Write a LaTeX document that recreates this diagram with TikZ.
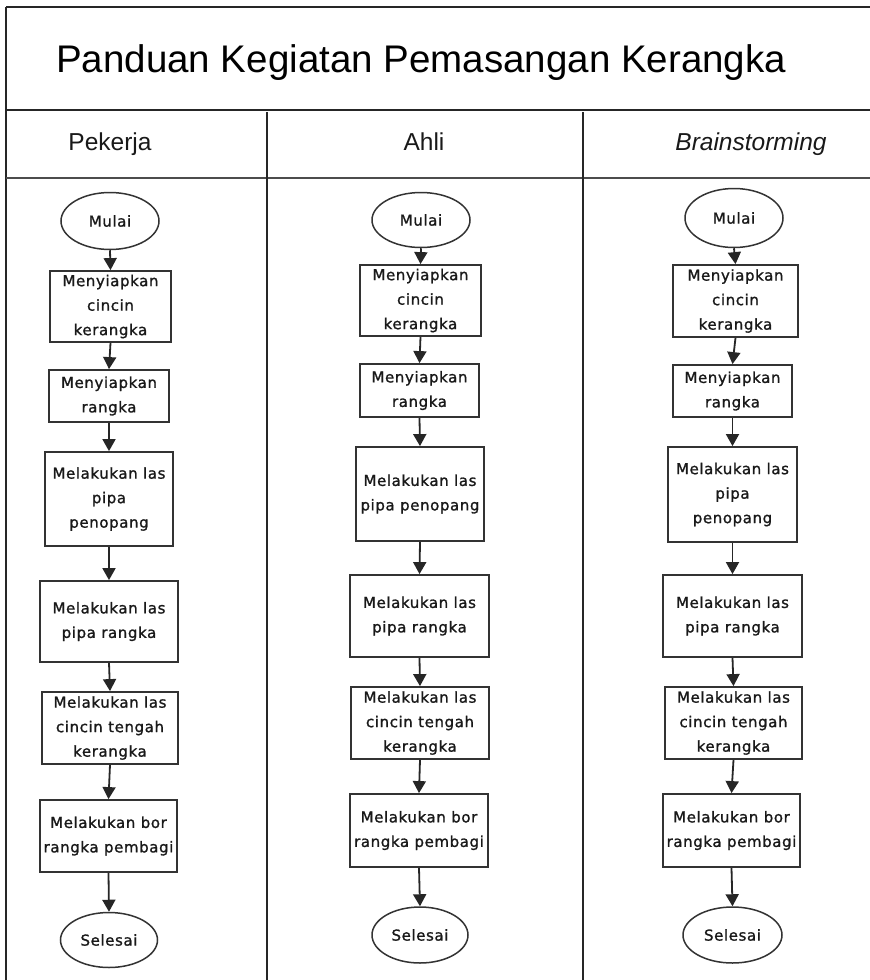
\documentclass[tikz,border=0pt]{standalone}
\usepackage{fontspec}
\setmainfont{Liberation Sans}
\newfontfamily\boxfont[LetterSpace=4,FakeBold=1.2]{DejaVu Sans}
\usetikzlibrary{shapes.geometric,arrows.meta}
\tikzset{
  x=1pt, y=-1pt,
  frameline/.style={line width=1.6pt, draw=black!85},
  boxtext/.style={font=\boxfont\fontsize{15}{24.5}\selectfont, text=black!90, align=center, inner sep=0pt},
  procbox/.style={boxtext, draw=black!80, line width=1.8pt, rectangle},
  termnode/.style={boxtext, draw=black!80, line width=1.5pt, ellipse},
  arr/.style={line width=1.8pt, draw=black!85, -{Triangle[width=13pt,length=12pt]}},
  headtext/.style={font=\fontsize{24.5}{28}\selectfont, text=black!90, anchor=base, inner sep=0pt},
}
\begin{document}
\begin{tikzpicture}
\useasboundingbox (0,0) rectangle (870,980);
\clip (0,0) rectangle (870,980);
\fill[white] (0,0) rectangle (870,980);
% frame
\draw[frameline] (6,7) -- (872,7);
\draw[frameline] (6,7) -- (6,982);
\draw[frameline] (6,110) -- (872,110);
\draw[line width=2.6pt, draw=black!70] (6,178) -- (872,178);
\draw[frameline] (267,112) -- (267,982);
\draw[frameline] (583,112) -- (583,982);
% title and headers
\node[font=\fontsize{38.5}{44}\selectfont, text=black, anchor=base west, inner sep=0pt] (title) at (56,72) {Panduan Kegiatan Pemasangan Kerangka};
\node[headtext] (h1) at (110,150) {Pekerja};
\node[headtext] (h2) at (424,150) {Ahli};
\node[headtext] (h3) at (751,150) {\itshape Brainstorming};
% column 1
\node[termnode, minimum width=98pt, minimum height=57pt] (m1) at (110,221) {Mulai};
\node[procbox, minimum width=121pt, minimum height=71pt] (a1) at (110.5,306.5) {Menyiapkan\\cincin\\kerangka};
\node[procbox, minimum width=120pt, minimum height=52pt] (b1) at (109,396) {Menyiapkan\\rangka};
\node[procbox, minimum width=128pt, minimum height=94pt] (c1) at (109,499) {Melakukan las\\pipa\\penopang};
\node[procbox, minimum width=138pt, minimum height=81pt] (d1) at (109,621.5) {Melakukan las\\pipa rangka};
\node[procbox, minimum width=136pt, minimum height=72pt] (e1) at (110,728) {Melakukan las\\cincin tengah\\kerangka};
\node[procbox, minimum width=137pt, minimum height=72pt] (f1) at (108.5,836) {Melakukan bor\\rangka pembagi};
\node[termnode, minimum width=97pt, minimum height=55pt] (s1) at (109,940) {Selesai};
% column 2
\node[termnode, minimum width=98pt, minimum height=55pt] (m2) at (421,220) {Mulai};
\node[procbox, minimum width=121pt, minimum height=71pt] (a2) at (420.5,300.5) {Menyiapkan\\cincin\\kerangka};
\node[procbox, minimum width=119pt, minimum height=53pt] (b2) at (419.5,390.5) {Menyiapkan\\rangka};
\node[procbox, minimum width=128pt, minimum height=94pt] (c2) at (420,494) {Melakukan las\\pipa penopang};
\node[procbox, minimum width=139pt, minimum height=82pt] (d2) at (419.5,616) {Melakukan las\\pipa rangka};
\node[procbox, minimum width=138pt, minimum height=72pt] (e2) at (420,723) {Melakukan las\\cincin tengah\\kerangka};
\node[procbox, minimum width=138pt, minimum height=73pt] (f2) at (419,830.5) {Melakukan bor\\rangka pembagi};
\node[termnode, minimum width=96pt, minimum height=56pt] (s2) at (420,935) {Selesai};
% column 3
\node[termnode, minimum width=98pt, minimum height=59pt] (m3) at (734,218) {Mulai};
\node[procbox, minimum width=125pt, minimum height=72pt] (a3) at (735.5,301) {Menyiapkan\\cincin\\kerangka};
\node[procbox, minimum width=119pt, minimum height=52pt] (b3) at (732.5,391) {Menyiapkan\\rangka};
\node[procbox, minimum width=129pt, minimum height=95pt] (c3) at (732.5,494.5) {Melakukan las\\pipa\\penopang};
\node[procbox, minimum width=139pt, minimum height=82pt] (d3) at (732.5,616) {Melakukan las\\pipa rangka};
\node[procbox, minimum width=137pt, minimum height=72pt] (e3) at (733.5,723) {Melakukan las\\cincin tengah\\kerangka};
\node[procbox, minimum width=137pt, minimum height=73pt] (f3) at (731.5,830.5) {Melakukan bor\\rangka pembagi};
\node[termnode, minimum width=99pt, minimum height=56pt] (s3) at (732.5,935) {Selesai};
% connectors
\foreach \c in {1,2,3}{
  \draw[arr] (m\c.south) -- (a\c.north);
  \draw[arr] (a\c.south) -- (b\c.north);
  \draw[arr] (b\c.south) -- (c\c.north);
  \draw[arr] (c\c.south) -- (d\c.north);
  \draw[arr] (d\c.south) -- (e\c.north);
  \draw[arr] (e\c.south) -- (f\c.north);
  \draw[arr] (f\c.south) -- (s\c.north);
}
\end{tikzpicture}
\end{document}
